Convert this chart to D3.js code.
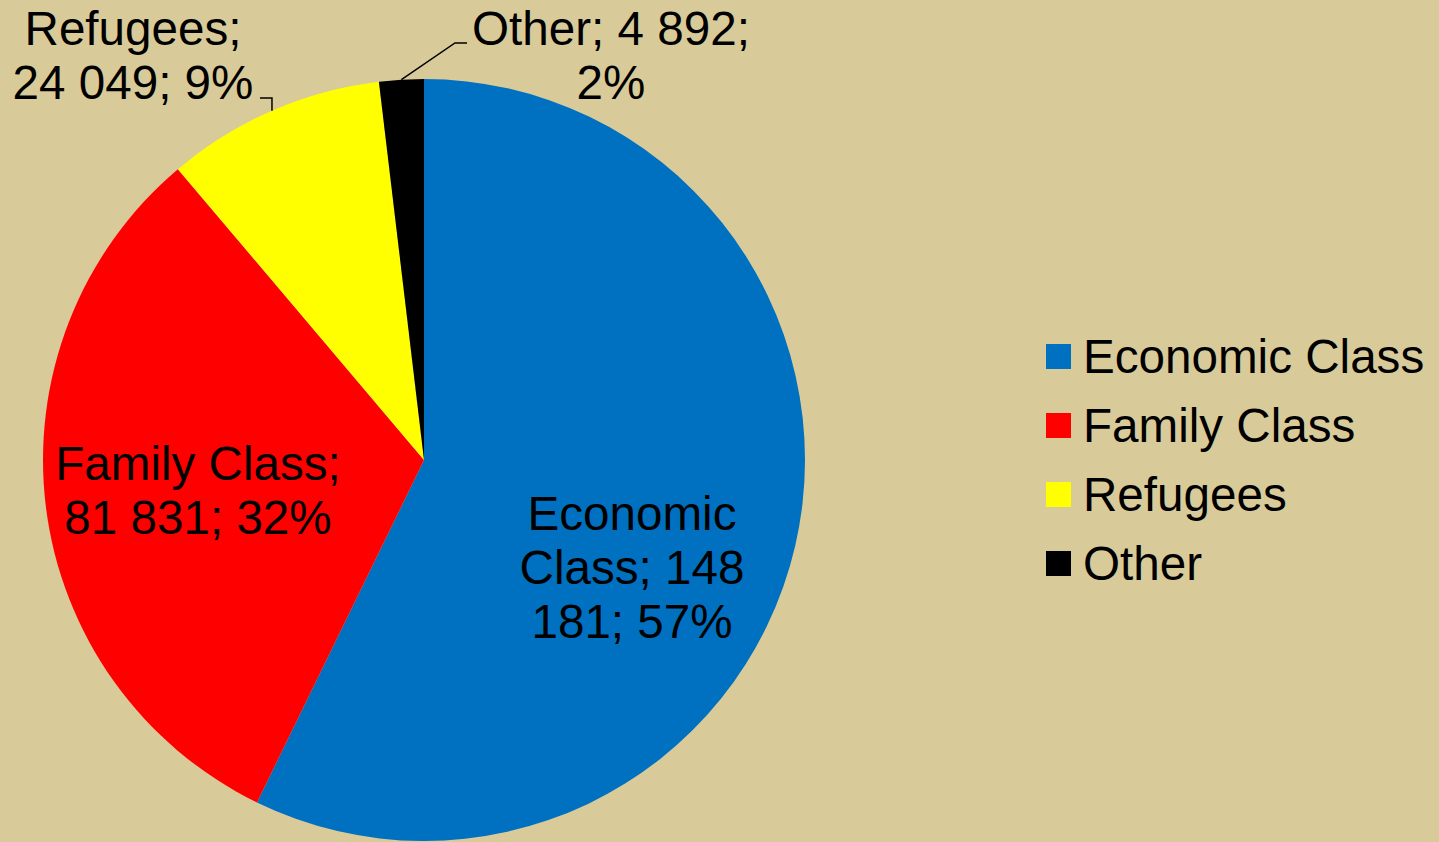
<!DOCTYPE html>
<html>
<head>
<meta charset="utf-8">
<script src="https://cdn.jsdelivr.net/npm/d3@7"></script>
<style>
  html, body { margin: 0; padding: 0; background: #D9CB99; }
  svg { display: block; font-family: "Liberation Sans", Arial, sans-serif; }
</style>
</head>
<body>
<svg id="chart"></svg>
<script>
// Data
const CATEGORIES = ['Economic Class', 'Family Class', 'Refugees', 'Other'];
const VALUES = [148181, 81831, 24049, 4892];
const PERCENTS = ['57%', '32%', '9%', '2%'];
const COLORS = ['#0070C0', '#FF0000', '#FFFF00', '#000000'];
// data label lines as shown in the chart
const LABEL_LINES = [
    ['Economic', 'Class; 148', '181; 57%'],
    ['Family Class;', '81 831; 32%'],
    ['Refugees;', '24 049; 9%'],
    ['Other; 4 892;', '2%']
];

const WIDTH = 1439;
const HEIGHT = 842;
const CX = 424, CY = 460, RADIUS = 381;
const FONT_SIZE = 47.6;
const LINE_H = 54;

const svg = d3.select('#chart')
    .attr('width', WIDTH)
    .attr('height', HEIGHT);

const data = CATEGORIES.map((c, i) => ({ name: c, value: VALUES[i], color: COLORS[i], lines: LABEL_LINES[i] }));

const pie = d3.pie().value(d => d.value).sort(null);
const arc = d3.arc().innerRadius(0).outerRadius(RADIUS);
const arcs = pie(data);

const g = svg.append('g').attr('transform', `translate(${CX}, ${CY})`);

g.selectAll('path')
    .data(arcs).enter()
    .append('path')
    .attr('d', arc)
    .attr('fill', d => d.data.color);

// label anchors (relative to pie center), in px
const LABEL_POS = [
    { x: 208, y: 70 },     // Economic Class (first baseline)
    { x: -226, y: 20 },    // Family Class
    { x: -291, y: -415 },  // Refugees
    { x: 187, y: -415 }    // Other
];

const labels = g.selectAll('text.label')
    .data(arcs).enter()
    .append('text')
    .attr('class', 'label')
    .attr('text-anchor', 'middle')
    .style('font-size', `${FONT_SIZE}px`)
    .attr('fill', '#000');

labels.each(function(d, i) {
    const t = d3.select(this);
    d.data.lines.forEach((line, j) => {
        t.append('tspan')
            .attr('x', LABEL_POS[i].x)
            .attr('y', LABEL_POS[i].y + j * LINE_H)
            .text(line);
    });
});

// leader lines for outside labels
const edge = d => {
    const a = (d.startAngle + d.endAngle) / 2;
    return [RADIUS * Math.sin(a), -RADIUS * Math.cos(a)];
};
const leaders = [
    { i: 2, pts: p => [p, [p[0], -362], [-164, -362]] },
    { i: 3, pts: p => [p, [31, -417], [43, -417]] }
];
leaders.forEach(l => {
    const p = edge(arcs[l.i]);
    g.append('path')
        .attr('d', d3.line()(l.pts(p)))
        .attr('fill', 'none')
        .attr('stroke', '#000')
        .attr('stroke-width', 1.5);
});

// Legend
const legend = svg.append('g').attr('transform', 'translate(1046, 344)');
const LEGEND_STEP = 69;
const row = legend.selectAll('g')
    .data(data).enter()
    .append('g')
    .attr('transform', (d, i) => `translate(0, ${i * LEGEND_STEP})`);
row.append('rect')
    .attr('width', 25)
    .attr('height', 25)
    .attr('fill', d => d.color);
row.append('text')
    .attr('x', 37)
    .attr('y', 29)
    .style('font-size', `${FONT_SIZE}px`)
    .text(d => d.name);
</script>
</body>
</html>
